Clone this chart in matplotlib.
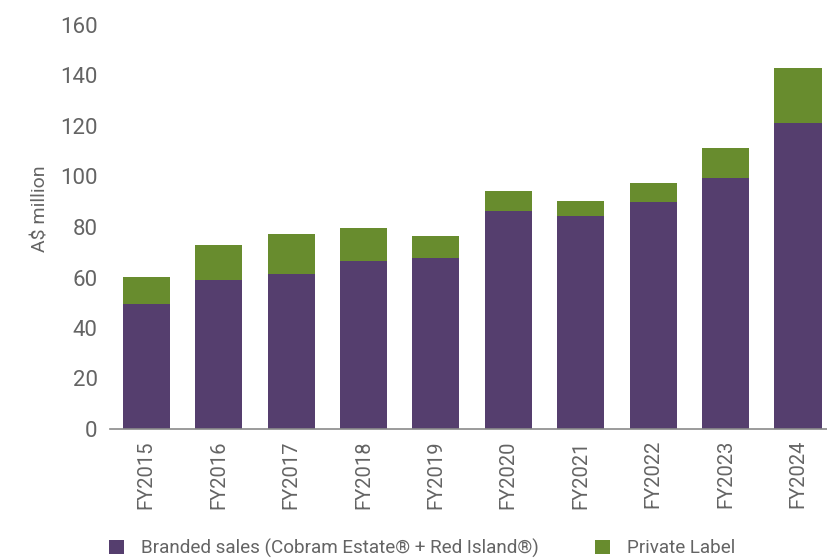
import matplotlib
matplotlib.use("Agg")
import matplotlib.pyplot as plt
from matplotlib.patches import Patch

# Sales by financial year, A$ million
years = ["FY2015", "FY2016", "FY2017", "FY2018", "FY2019",
         "FY2020", "FY2021", "FY2022", "FY2023", "FY2024"]
branded = [49.7, 59.2, 61.5, 66.7, 67.9, 86.5, 84.5, 90.0, 99.5, 121.3]
private_label = [10.6, 13.8, 15.9, 13.0, 8.7, 7.9, 5.9, 7.5, 11.9, 21.8]

series_names = ["Branded sales (Cobram Estate\u00ae + Red Island\u00ae)", "Private Label"]
y_ticks = [0, 20, 40, 60, 80, 100, 120, 140, 160]

PURPLE = "#553E6E"
GREEN = "#688C2E"
TEXT = "#646464"
AXIS = "#8A8A8A"

plt.rcParams["font.family"] = ["Roboto", "DejaVu Sans"]

fig = plt.figure(figsize=(8.27, 5.58), dpi=100)
ax = fig.add_axes([110 / 827, 129 / 558, 717 / 827, 404 / 558])

x = list(range(len(years)))
ax.bar(x, branded, width=0.65, color=PURPLE, zorder=2)
ax.bar(x, private_label, width=0.65, bottom=branded, color=GREEN, zorder=2)

ax.set_xlim(-0.5, 9.40)
ax.set_ylim(0, 160)
ax.set_yticks(y_ticks)
ax.set_yticklabels([str(v) for v in y_ticks], fontsize=16, color=TEXT)
ax.set_xticks(x)
ax.set_xticklabels(years, rotation=90, fontsize=14.5, color=TEXT)
ax.tick_params(axis="y", length=0, pad=9)
ax.tick_params(axis="x", length=0, pad=8)

for side in ("top", "right", "left"):
    ax.spines[side].set_visible(False)
ax.spines["bottom"].set_color(AXIS)
ax.spines["bottom"].set_linewidth(1.2)
ax.spines["bottom"].set_zorder(3)

ax.set_ylabel("A$ million", fontsize=14, color=TEXT)
ax.yaxis.set_label_coords(-0.085, 0.545)

handles = [Patch(facecolor=PURPLE, edgecolor="none"),
           Patch(facecolor=GREEN, edgecolor="none")]
fig.legend(handles, series_names, loc="lower left",
           bbox_to_anchor=(92 / 827, -0.03), ncol=2, frameon=False,
           fontsize=13.6, labelcolor=TEXT, handlelength=0.82, handleheight=0.82,
           handletextpad=0.85, columnspacing=3.0)

fig.savefig("out.png", dpi=100)
